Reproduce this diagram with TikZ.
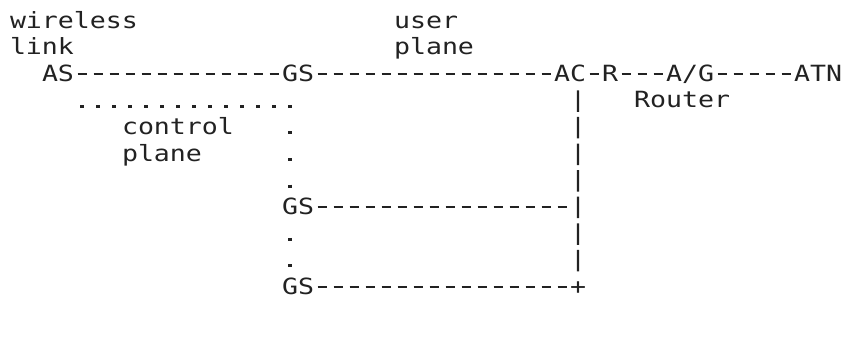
\documentclass[tikz,border=0pt]{standalone}
\usepackage{fontspec}
\newfontfamily\dmono[FakeStretch=1.19]{DejaVu Sans Mono}
\definecolor{ink}{HTML}{222222}
\begin{document}
\begin{tikzpicture}[x=1pt,y=-1pt,
  lbl/.style={anchor=base west, inner sep=0pt, outer sep=0pt, text=ink,
              font=\dmono\fontsize{22.333}{26.6}\selectfont},
  hyph/.style={draw=ink, line width=2pt, dash pattern=on 9pt off 7pt, dash phase=12.5pt},
  hdots/.style={draw=ink, line width=3pt, dash pattern=on 3.4pt off 12.6pt},
  vdots/.style={draw=ink, line width=3.4pt, dash pattern=on 3pt off 23.6pt},
  vbar/.style={draw=ink, line width=2.2pt, dash pattern=on 21.5pt off 5.1pt}]
\useasboundingbox (0,0) rectangle (844,349);
% labels
\node[lbl] (wl1) at (10,28) {wireless};
\node[lbl] (wl2) at (10,54.6) {link};
\node[lbl] (up1) at (394,28) {user};
\node[lbl] (up2) at (394,54.6) {plane};
\node[lbl] (cp1) at (122,134.4) {control};
\node[lbl] (cp2) at (122,161) {plane};
\node[lbl] (rtr) at (634,107.8) {Router};
% entities
\node[lbl] (AS)  at (42,81.2)  {AS};
\node[lbl] (GS1) at (282,81.2) {GS};
\node[lbl] (AC)  at (554,81.2) {AC};
\node[lbl] (R)   at (602,81.2) {R};
\node[lbl] (AG)  at (666,81.2) {A/G};
\node[lbl] (ATN) at (794,81.2) {ATN};
\node[lbl] (GS2) at (282,214.2) {GS};
\node[lbl] (GS3) at (282,294) {GS};
\node[lbl] (plus) at (570,294) {+};
\coordinate (J8) at (GS2.base -| AC.base);
% user plane (dashes)
\draw[hyph] ([yshift=7.5pt]AS.base east) -- ([yshift=7.5pt]GS1.base west);
\draw[hyph] ([yshift=7.5pt]GS1.base east) -- ([yshift=7.5pt]AC.base west);
\draw[hyph] ([yshift=7.5pt]AC.base east) -- ([yshift=7.5pt]R.base west);
\draw[hyph] ([yshift=7.5pt]R.base east) -- ([yshift=7.5pt]AG.base west);
\draw[hyph] ([yshift=7.5pt]AG.base east) -- ([yshift=7.5pt]ATN.base west);
\draw[hyph] ([yshift=7.5pt]GS2.base east) -- ([yshift=7.5pt]J8);
\draw[hyph] ([yshift=7.5pt]GS3.base east) -- ([yshift=7.5pt]plus.base west);
% vertical bar
\draw[vbar] ([shift={(8pt,-9.1pt)}]AC.base) -- ([yshift=22.6pt]plus.base);
% control plane (dots)
\draw[hdots] ([shift={(6.3pt,-25.1pt)}]AS.base east) -- ([shift={(9.7pt,-25.1pt)}]GS1.base west);
\draw[vdots] ([shift={(8pt,-50.2pt)}]GS1.base west) -- ([shift={(8pt,26.6pt)}]GS2.base west);
\draw[vdots] ([shift={(8pt,-23.6pt)}]GS2.base west) -- ([shift={(8pt,26.6pt)}]GS3.base west);
\end{tikzpicture}
\end{document}
